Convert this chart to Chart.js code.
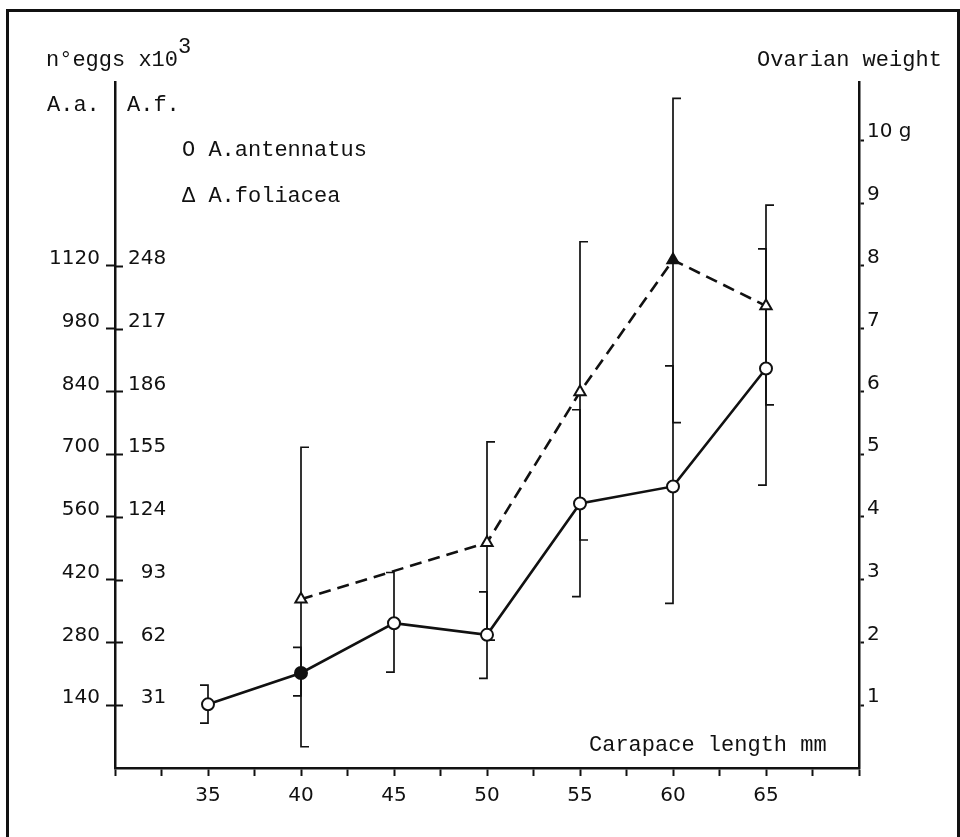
<!DOCTYPE html>
<html>
<head>
<meta charset="utf-8">
<script src="https://cdn.jsdelivr.net/npm/chart.js@4.4.0/dist/chart.umd.min.js"></script>
<style>
  html, body { margin: 0; padding: 0; background: #fff; }
  #wrap { position: relative; width: 960px; height: 837px; overflow: hidden; background: #fff; }
  #frame { position: absolute; left: 6px; top: 9px; width: 948px; height: 900px; border: 3px solid #111; }
  #chartBox { position: absolute; left: 0; top: 0; width: 960px; height: 837px; }
  .lbl { position: absolute; font-family: "Liberation Mono", monospace; font-size: 22px; color: #111; white-space: pre; line-height: 1; }
  .sup { position: relative; top: -13px; }
</style>
</head>
<body>
<div id="wrap">
  <div id="frame"></div>
  <div id="chartBox"><canvas id="eggsChart"></canvas></div>
  <div class="lbl" style="left:46px; top:50px">n°eggs x10<span class="sup">3</span></div>
  <div class="lbl" style="left:47px; top:95px">A.a.</div>
  <div class="lbl" style="left:127px; top:95px">A.f.</div>
  <div class="lbl" style="left:757px; top:50px">Ovarian weight</div>
  <div class="lbl" style="left:589px; top:735px">Carapace length mm</div>
  <div id="legend"></div>
</div>
<script>
// carapace length classes (mm)
const LENGTHS = [35, 40, 45, 50, 55, 60, 65];

// A. antennatus, n eggs x10^3 (A.a. scale)
const AA_MEAN = [142, 212, 323, 297, 590, 628, 891];
const AA_LOW  = [100, 161, 214, 200, 382, 367, 631];
const AA_HIGH = [185, 269, 436, 393, 799, 897, 1158];

// A. foliacea, n eggs x10^3 (A.f. scale), no sample at 35 and 45
const AF_MEAN = [null, 83.3, null, 111.3, 185.7, 250.9, 228.2];
const AF_LOW  = [null, 10.5, null, 63.2, 112.6, 170.6, 179.3];
const AF_HIGH = [null, 158.4, null, 161.1, 259.9, 330.7, 278.0];

const SERIES = ['A.antennatus', 'A.foliacea'];
const MARKERS = ['O', 'Δ'];

// axis ticks
const X_LABELS = [35, 40, 45, 50, 55, 60, 65];
const AA_TICKS = [140, 280, 420, 560, 700, 840, 980, 1120];
const AF_TICKS = [31, 62, 93, 124, 155, 186, 217, 248];
const G_TICKS = [1, 2, 3, 4, 5, 6, 7, 8, 9, 10];
const G_LABELS = ['1', '2', '3', '4', '5', '6', '7', '8', '9', '10 g'];

// all three vertical scales share the same tick spacing
const AA_MAX = 1530;
const AF_MAX = AA_MAX * AF_TICKS[0] / AA_TICKS[0];
const G_MAX = AA_MAX * G_TICKS[0] / AA_TICKS[0];

const INK = '#111';
const tickFont = { family: 'DejaVu Sans', size: 20 };

Chart.defaults.font.family = 'DejaVu Sans';
Chart.defaults.color = INK;

// vertical range bars: A.a. caps point left, A.f. caps point right
const rangeBars = {
    id: 'rangeBars',
    beforeDatasetsDraw(chart) {
        const ctx = chart.ctx;
        const xs = chart.scales.x;
        const groups = [
            { scale: chart.scales.yAa, low: AA_LOW, high: AA_HIGH, side: -1 },
            { scale: chart.scales.yAf, low: AF_LOW, high: AF_HIGH, side: 1 }
        ];
        ctx.save();
        ctx.strokeStyle = INK;
        ctx.lineWidth = 1.7;
        groups.forEach(g => {
            LENGTHS.forEach((len, i) => {
                if (g.low[i] == null) return;
                const px = xs.getPixelForValue(len);
                const top = g.scale.getPixelForValue(g.high[i]);
                const bot = g.scale.getPixelForValue(g.low[i]);
                ctx.beginPath();
                ctx.moveTo(px + g.side * 8, top);
                ctx.lineTo(px, top);
                ctx.lineTo(px, bot);
                ctx.lineTo(px + g.side * 8, bot);
                ctx.stroke();
            });
        });
        // left axis ticks cross the axis line
        const ya = chart.scales.yAa;
        const left = chart.chartArea.left;
        ctx.lineWidth = 2;
        AA_TICKS.forEach(v => {
            const py = Math.round(ya.getPixelForValue(v)) + 0.5;
            ctx.beginPath();
            ctx.moveTo(left, py);
            ctx.lineTo(left + 8, py);
            ctx.stroke();
        });
        ctx.restore();
    }
};

const chart = new Chart(document.getElementById('eggsChart'), {
    type: 'line',
    data: {
        datasets: [{
            label: SERIES[0],
            data: LENGTHS.map((x, i) => ({ x: x, y: AA_MEAN[i] })),
            yAxisID: 'yAa',
            borderColor: INK,
            borderWidth: 2.6,
            pointStyle: 'circle',
            pointRadius: 6,
            pointBorderWidth: 2,
            pointBorderColor: INK,
            pointBackgroundColor: LENGTHS.map(x => x === 40 ? INK : '#fff'),
            tension: 0
        }, {
            label: SERIES[1],
            data: LENGTHS.map((x, i) => ({ x: x, y: AF_MEAN[i] })),
            yAxisID: 'yAf',
            borderColor: INK,
            borderWidth: 2.6,
            borderDash: [12, 7],
            spanGaps: true,
            pointStyle: 'triangle',
            pointRadius: 6.5,
            pointBorderWidth: 2,
            pointBorderColor: INK,
            pointBackgroundColor: LENGTHS.map(x => x === 60 ? INK : '#fff'),
            tension: 0
        }]
    },
    options: {
        responsive: true,
        maintainAspectRatio: false,
        animation: false,
        layout: { padding: { top: 82, left: 0, right: 0, bottom: 0 } },
        plugins: { legend: { display: false }, tooltip: { enabled: false } },
        scales: {
            x: {
                type: 'linear',
                position: 'bottom',
                min: 30, max: 70,
                ticks: {
                    stepSize: 2.5,
                    autoSkip: false,
                    maxRotation: 0,
                    font: tickFont,
                    color: INK,
                    padding: 8,
                    callback: v => X_LABELS.includes(v) ? String(v) : ''
                },
                grid: { drawOnChartArea: false, tickLength: 8, tickWidth: 2, tickColor: INK },
                border: { display: true, color: INK, width: 2.5 },
                afterFit: s => { s.height = 69; }
            },
            yAa: {
                type: 'linear',
                position: 'left',
                weight: 1,
                min: 0, max: AA_MAX,
                afterBuildTicks: s => { s.ticks = AA_TICKS.map(v => ({ value: v })); },
                ticks: { font: tickFont, color: INK, padding: 6, labelOffset: -7, callback: v => String(v) },
                grid: { drawOnChartArea: false, tickLength: 9, tickWidth: 2, tickColor: INK },
                border: { display: true, color: INK, width: 2.5 },
                afterFit: s => { s.width = 115; }
            },
            yAf: {
                type: 'linear',
                position: 'left',
                weight: 0,
                min: 0, max: AF_MAX,
                afterBuildTicks: s => { s.ticks = AF_TICKS.map(v => ({ value: v })); },
                ticks: { mirror: true, crossAlign: 'far', font: tickFont, color: INK, padding: 13, labelOffset: -7, callback: v => String(v) },
                grid: { display: false, drawTicks: false },
                border: { display: false },
                afterFit: s => { s.width = 0; }
            },
            yG: {
                type: 'linear',
                position: 'right',
                min: 0, max: G_MAX,
                afterBuildTicks: s => { s.ticks = G_TICKS.map(v => ({ value: v })); },
                ticks: {
                    font: tickFont, color: INK, padding: 3, labelOffset: -8,
                    callback: v => G_LABELS[G_TICKS.indexOf(v)]
                },
                grid: { drawOnChartArea: false, tickLength: 5, tickWidth: 2, tickColor: INK },
                border: { display: true, color: INK, width: 2.5 },
                afterFit: s => { s.width = 101; }
            }
        }
    },
    plugins: [rangeBars]
});

// legend as typed text, like the original
const legendEl = document.getElementById('legend');
chart.data.datasets.forEach((ds, i) => {
    const row = document.createElement('div');
    row.className = 'lbl';
    row.style.left = '182px';
    row.style.top = (140 + i * 46) + 'px';
    row.textContent = MARKERS[i] + ' ' + ds.label;
    legendEl.appendChild(row);
});
</script>
</body>
</html>
